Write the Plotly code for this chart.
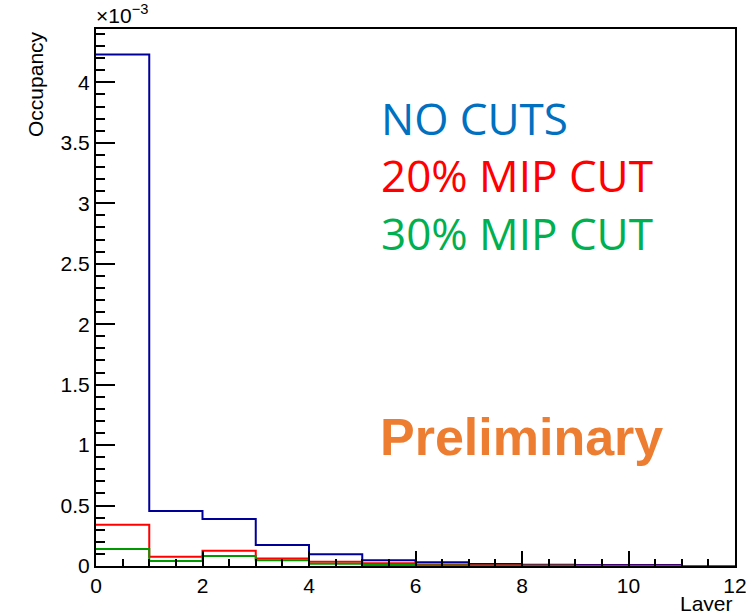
import plotly.graph_objects as go

# Layer bin edges (12 bins from 0 to 12)
layer_edges = [0, 1, 2, 3, 4, 5, 6, 7, 8, 9, 10, 11, 12]

# Occupancy per layer, in units of 1e-3
occ_no_cuts = [4.23, 0.455, 0.388, 0.174, 0.097, 0.047, 0.031, 0.017, 0.011, 0.008, 0.008, 0.0]
occ_mip20 = [0.342, 0.077, 0.127, 0.063, 0.036, 0.022, 0.012, 0.006, 0.004, 0.003, 0.002, 0.001]
occ_mip30 = [0.140, 0.041, 0.083, 0.047, 0.019, 0.008, 0.005, 0.002, 0.002, 0.001, 0.001, 0.001]

series = [
    ("NO CUTS", occ_no_cuts, "#000099"),
    ("20% MIP CUT", occ_mip20, "#ff0000"),
    ("30% MIP CUT", occ_mip30, "#009900"),
]

fig = go.Figure()
for name, vals, color in series:
    # step outline: repeat the last bin value at the upper edge
    fig.add_trace(go.Scatter(
        x=layer_edges,
        y=vals + [vals[-1]],
        mode="lines",
        line=dict(shape="hv", color=color, width=2),
        name=name,
        showlegend=False,
        hoverinfo="skip",
    ))

y_top = max(occ_no_cuts) * 1.05

helv = "Liberation Sans, Arial, sans-serif"
tick_font = dict(family=helv, size=21, color="black")

fig.update_xaxes(
    range=[0, 12],
    dtick=2,
    tick0=0,
    ticks="inside",
    ticklen=15,
    tickwidth=2,
    tickcolor="black",
    minor=dict(dtick=0.5, ticks="inside", ticklen=7, tickwidth=2, tickcolor="black"),
    showgrid=False,
    zeroline=False,
    showline=True,
    linecolor="black",
    linewidth=2,
    mirror=True,
    automargin=False,
    ticklabeloverflow="allow",
    tickfont=tick_font,
)
fig.update_yaxes(
    range=[0, y_top],
    dtick=0.5,
    tick0=0,
    ticks="inside",
    ticklen=19,
    tickwidth=2,
    tickcolor="black",
    minor=dict(dtick=0.1, ticks="inside", ticklen=9, tickwidth=2, tickcolor="black"),
    showgrid=False,
    zeroline=False,
    showline=True,
    linecolor="black",
    linewidth=2,
    mirror=True,
    automargin=False,
    ticklabeloverflow="allow",
    tickfont=tick_font,
)

label_font = "Open Sans, Inter, sans-serif"
annotations = [
    dict(text="NO CUTS", x=0.443, y=0.834, font=dict(family=label_font, size=44, color="#0070c0")),
    dict(text="20% MIP CUT", x=0.443, y=0.728, font=dict(family=label_font, size=44, color="#ff0000")),
    dict(text="30% MIP CUT", x=0.443, y=0.620, font=dict(family=label_font, size=44, color="#00b050")),
    dict(text="<b>Preliminary</b>", x=0.442, y=0.240,
         font=dict(family=helv, size=52, color="#ed7d31")),
]
for a in annotations:
    a.update(xref="paper", yref="paper", xanchor="left", yanchor="middle", showarrow=False)
    fig.add_annotation(**a)

# axis titles placed at the axis ends
fig.add_annotation(text="Occupancy", xref="paper", yref="paper", x=-0.0955, y=1.0,
                   xanchor="center", yanchor="top", textangle=-90, showarrow=False,
                   font=dict(family=helv, size=21, color="black"))
fig.add_annotation(text="Layer", xref="paper", yref="paper", x=1.0, y=-0.069,
                   xanchor="right", yanchor="middle", showarrow=False,
                   font=dict(family=helv, size=21, color="black"))
fig.add_annotation(text="×10<sup>−3</sup>", xref="paper", yref="paper", x=-0.003, y=1.0,
                   xanchor="left", yanchor="bottom", showarrow=False,
                   font=dict(family=helv, size=21, color="black"))

fig.update_layout(
    width=746,
    height=611,
    margin=dict(l=96, r=11, t=29, b=45),
    paper_bgcolor="white",
    plot_bgcolor="white",
)

fig.write_html("out.html")
